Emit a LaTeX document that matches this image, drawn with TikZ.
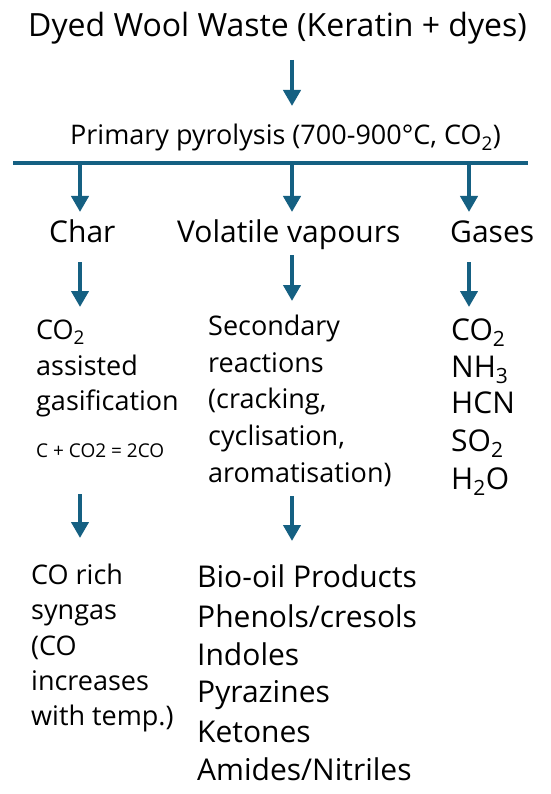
\documentclass[tikz,border=0pt]{standalone}
\usepackage{fontspec}
\setmainfont{Open Sans}
\usetikzlibrary{arrows.meta}
\definecolor{arrowblue}{HTML}{156082}
\newcommand\fs[1]{\fontsize{#1}{#1}\selectfont}
\begin{document}
\begin{tikzpicture}[x=1pt,y=-1pt,
  txt/.style={inner sep=0pt, anchor=base west, text=black},
  arr/.style={draw=arrowblue, line width=4pt, -{Triangle[width=17pt,length=16pt]}},
  bar/.style={draw=arrowblue, line width=3.5pt}]
\useasboundingbox[fill=white] (0,0) rectangle (550,794);
% title and primary step
\node[txt, font=\fs{32}] (title) at (28,37) {Dyed Wool Waste (Keratin + dyes)};
\node[txt, font=\fs{27}] (primary) at (70,145) {Primary pyrolysis (700-900°C, CO\textsubscript{2})};
\coordinate (a0s) at (292,60);
\coordinate (a0e) at (292,106);
\draw[arr] (a0s) -- (a0e);
% splitter bar
\coordinate (barL) at (13,163);
\coordinate (barR) at (528,163);
\draw[bar] (barL) -- (barR);
\coordinate (b1) at (80,163);
\coordinate (b2) at (292,163);
\coordinate (b3) at (469,163);
\coordinate (b1e) at (80,212);
\coordinate (b2e) at (292,212);
\coordinate (b3e) at (469,212);
\draw[arr] (b1) -- (b1e);
\draw[arr] (b2) -- (b2e);
\draw[arr] (b3) -- (b3e);
% branch headings
\node[txt, font=\fs{30}] (char) at (49,243) {Char};
\node[txt, font=\fs{30}] (vol) at (177,243) {Volatile vapours};
\node[txt, font=\fs{30}] (gas) at (450,243) {Gases};
\coordinate (c1s) at (80,262);
\coordinate (c1e) at (80,307);
\coordinate (c2s) at (292,255);
\coordinate (c2e) at (292,301);
\coordinate (c3s) at (469,262);
\coordinate (c3e) at (469,307);
\draw[arr] (c1s) -- (c1e);
\draw[arr] (c2s) -- (c2e);
\draw[arr] (c3s) -- (c3e);
% left column
\node[txt, font=\fs{27}] (l1) at (36,339) {CO\textsubscript{2}};
\node[txt, font=\fs{27}] (l2) at (36,375) {assisted};
\node[txt, font=\fs{27}] (l3) at (36,410) {gasification};
\node[txt, font=\fs{19}] (eq) at (36,457) {C + CO2 = 2CO};
% middle column
\node[txt, font=\fs{27}] (m1) at (208,335) {Secondary};
\node[txt, font=\fs{27}] (m2) at (208,372) {reactions};
\node[txt, font=\fs{27}] (m3) at (208,408) {(cracking,};
\node[txt, font=\fs{27}] (m4) at (208,445) {cyclisation,};
\node[txt, font=\fs{27}] (m5) at (208,482) {aromatisation)};
% right column
\node[txt, font=\fs{30}] (r1) at (451,340) {CO\textsubscript{2}};
\node[txt, font=\fs{30}] (r2) at (451,377) {NH\textsubscript{3}};
\node[txt, font=\fs{30}] (r3) at (451,413) {HCN};
\node[txt, font=\fs{30}] (r4) at (451,451) {SO\textsubscript{2}};
\node[txt, font=\fs{30}] (r5) at (451,489) {H\textsubscript{2}O};
% lower arrows
\coordinate (d1s) at (80,494);
\coordinate (d1e) at (80,538);
\coordinate (d2s) at (292,496);
\coordinate (d2e) at (292,541);
\draw[arr] (d1s) -- (d1e);
\draw[arr] (d2s) -- (d2e);
% bottom left
\node[txt, font=\fs{27}] (s1) at (31,584) {CO rich};
\node[txt, font=\fs{27}] (s2) at (31,619) {syngas};
\node[txt, font=\fs{27}] (s3) at (31,655) {(CO};
\node[txt, font=\fs{27}] (s4) at (31,690) {increases};
\node[txt, font=\fs{27}] (s5) at (31,725) {with temp.)};
% bottom middle
\node[txt, font=\fs{30}] (p1) at (197,587) {Bio-oil Products};
\node[txt, font=\fs{30}] (p2) at (197,627) {Phenols/cresols};
\node[txt, font=\fs{30}] (p3) at (197,665) {Indoles};
\node[txt, font=\fs{30}] (p4) at (197,702) {Pyrazines};
\node[txt, font=\fs{30}] (p5) at (197,742) {Ketones};
\node[txt, font=\fs{30}] (p6) at (197,780) {Amides/Nitriles};
\end{tikzpicture}
\end{document}
